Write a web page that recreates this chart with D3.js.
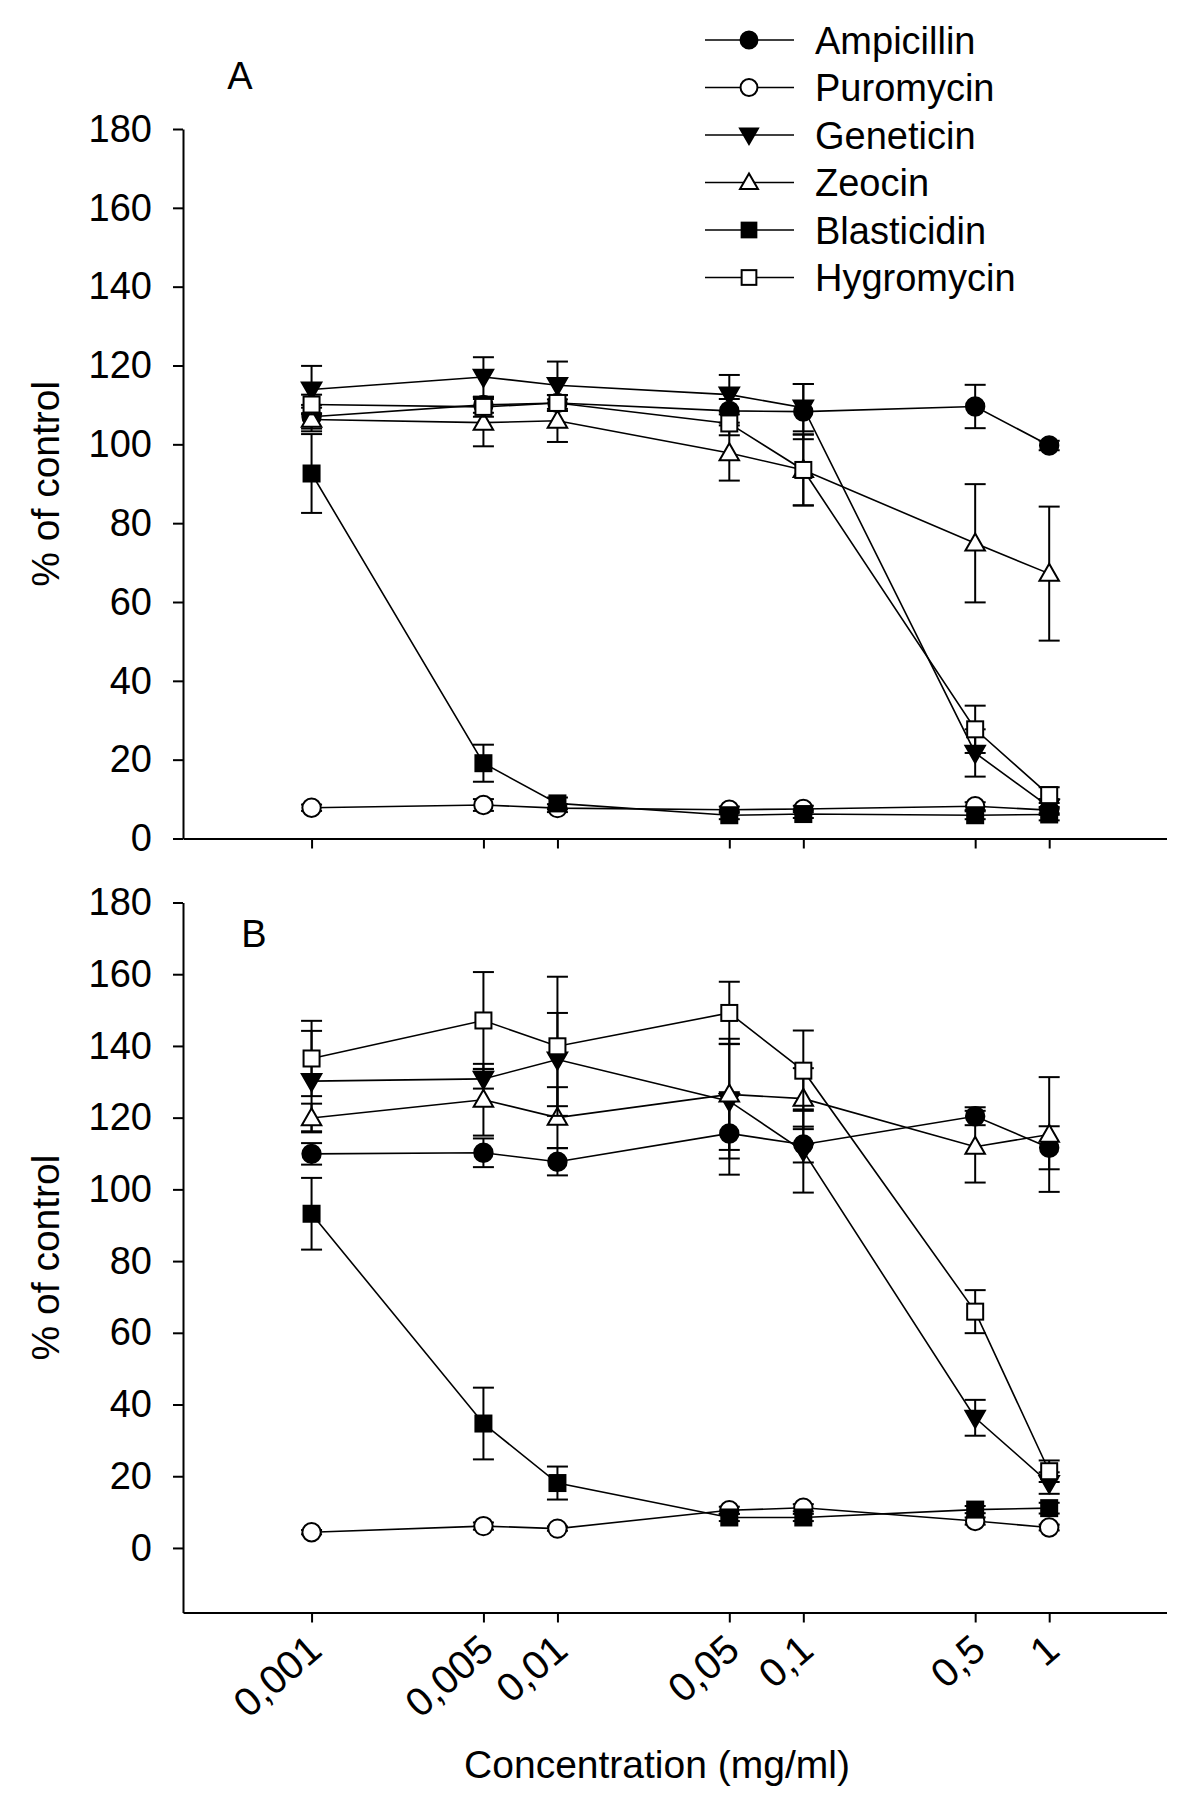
<!DOCTYPE html>
<html><head><meta charset="utf-8">
<script src="https://cdn.jsdelivr.net/npm/d3@7"></script>
<style>
body{margin:0;background:#fff}
svg{display:block}
text{font-family:"Liberation Sans",Arial,Helvetica,sans-serif;fill:#000}
</style>
</head><body>
<svg id="chart" width="1200" height="1810"></svg>
<script>
// ---------- data ----------
const concentrations = [0.001, 0.005, 0.01, 0.05, 0.1, 0.5, 1];
const tickLabels = ["0,001", "0,005", "0,01", "0,05", "0,1", "0,5", "1"];
const yTicks = [0, 20, 40, 60, 80, 100, 120, 140, 160, 180];
const seriesNames = ["Ampicillin", "Puromycin", "Geneticin", "Zeocin", "Blasticidin", "Hygromycin"];

// Panel A (mean, error)
const ampicillinA   = [107.0, 110.0, 110.5, 108.5, 108.3, 109.6, 99.7];
const ampicillinAErr= [3.0, 2.0, 2.0, 3.0, 7.0, 5.5, 1.2];
const puromycinA    = [7.8, 8.5, 7.7, 7.3, 7.5, 8.2, 7.2];
const puromycinAErr = [0.8, 1.5, 1.0, 0.8, 0.8, 1.0, 0.8];
const geneticinA    = [113.9, 117.1, 115.0, 112.6, 109.3, 21.7, 8.0];
const geneticinAErr = [6.0, 5.0, 6.0, 5.0, 6.0, 6.0, 2.0];
const zeocinA       = [106.3, 105.5, 106.0, 97.8, 93.5, 74.9, 67.2];
const zeocinAErr    = [3.0, 6.0, 5.4, 7.0, 9.0, 15.0, 17.0];
const blasticidinA  = [92.6, 19.1, 8.9, 5.9, 6.2, 5.9, 6.1];
const blasticidinAErr=[10.0, 4.7, 1.5, 1.0, 1.0, 1.0, 1.5];
const hygromycinA   = [110.1, 109.5, 110.5, 105.3, 93.5, 27.7, 11.0];
const hygromycinAErr= [2.5, 2.5, 2.0, 3.0, 9.0, 6.0, 2.0];

// Panel B (mean, error)
const ampicillinB   = [109.9, 110.2, 107.7, 115.6, 112.5, 120.4, 111.6];
const ampicillinBErr= [3.0, 4.0, 3.8, 11.5, 5.0, 2.5, 6.0];
const puromycinB    = [4.4, 6.1, 5.4, 10.5, 11.2, 7.5, 5.7];
const puromycinBErr = [0.6, 1.0, 0.6, 1.0, 1.0, 1.0, 0.8];
const geneticinB    = [130.2, 130.8, 136.2, 124.6, 110.7, 36.3, 18.1];
const geneticinBErr = [14.0, 2.7, 13.0, 16.0, 11.6, 5.0, 3.0];
const zeocinB       = [119.9, 125.0, 120.0, 126.5, 125.3, 111.9, 115.3];
const zeocinBErr    = [4.0, 10.0, 8.5, 15.5, 8.5, 10.0, 16.0];
const blasticidinB  = [93.2, 34.7, 18.1, 8.5, 8.5, 10.7, 11.1];
const blasticidinBErr=[10.0, 10.0, 4.6, 1.0, 1.0, 1.0, 1.5];
const hygromycinB   = [136.5, 147.1, 139.9, 149.2, 133.1, 65.9, 21.4];
const hygromycinBErr= [10.5, 13.5, 19.4, 8.7, 11.2, 6.0, 3.0];

// ---------- layout / styles ----------
const markerStyles = {
  "Ampicillin":  {shape:"circle",   fill:"#000"},
  "Puromycin":   {shape:"circle",   fill:"#fff"},
  "Geneticin":   {shape:"triDown",  fill:"#000"},
  "Zeocin":      {shape:"triUp",    fill:"#fff"},
  "Blasticidin": {shape:"square",   fill:"#000"},
  "Hygromycin":  {shape:"square",   fill:"#fff"}
};

const panels = [
  {letter:"A", letterPos:[240, 89], yDomain:[0,180], yRange:[838.5,129],
   means:[ampicillinA, puromycinA, geneticinA, zeocinA, blasticidinA, hygromycinA],
   errs:[ampicillinAErr, puromycinAErr, geneticinAErr, zeocinAErr, blasticidinAErr, hygromycinAErr]},
  {letter:"B", letterPos:[254, 947], yDomain:[-18,180], yRange:[1612.5,902.5],
   means:[ampicillinB, puromycinB, geneticinB, zeocinB, blasticidinB, hygromycinB],
   errs:[ampicillinBErr, puromycinBErr, geneticinBErr, zeocinBErr, blasticidinBErr, hygromycinBErr]}
];

const svg = d3.select("#chart");
svg.append("rect").attr("width",1200).attr("height",1810).attr("fill","#fff");

const x = d3.scaleLog().domain([0.0003, 3]).range([183, 1166.5]);

function drawMarker(g, shape, fill, cx, cy, s) {
  const k = s || 1;
  if (shape === "circle") {
    g.append("circle").attr("cx",cx).attr("cy",cy).attr("r",9.2*k)
      .attr("fill",fill).attr("stroke","#000").attr("stroke-width",2);
  } else if (shape === "square") {
    const a = 16*k;
    g.append("rect").attr("x",cx-a/2).attr("y",cy-a/2).attr("width",a).attr("height",a)
      .attr("fill",fill).attr("stroke","#000").attr("stroke-width",2);
  } else {
    const w = 19.5*k, h = 17*k;
    const pts = shape === "triUp"
      ? [[cx, cy-h*0.58],[cx+w/2, cy+h*0.42],[cx-w/2, cy+h*0.42]]
      : [[cx, cy+h*0.58],[cx+w/2, cy-h*0.42],[cx-w/2, cy-h*0.42]];
    g.append("path").attr("d", "M"+pts.map(p=>p.join(",")).join("L")+"Z")
      .attr("fill",fill).attr("stroke","#000").attr("stroke-width",2).attr("stroke-linejoin","miter");
  }
}

panels.forEach(p => {
  const y = d3.scaleLinear().domain(p.yDomain).range(p.yRange);
  const g = svg.append("g");

  // axes
  const yAxis = d3.axisLeft(y).tickValues(yTicks).tickSize(10).tickSizeOuter(0).tickPadding(21);
  const ga = g.append("g").attr("transform",`translate(${x.range()[0]},0)`).call(yAxis);
  ga.select(".domain").attr("stroke","#000").attr("stroke-width",2);
  ga.selectAll(".tick line").attr("stroke","#000").attr("stroke-width",2);
  ga.selectAll(".tick text").style("font-size","38px").attr("font-family",null);

  const xAxis = d3.axisBottom(x).tickValues(concentrations).tickSize(10).tickSizeOuter(0)
    .tickFormat((d,i)=>tickLabels[i]);
  const gx = g.append("g").attr("transform",`translate(0,${p.yRange[0]})`).call(xAxis);
  gx.select(".domain").attr("stroke","#000").attr("stroke-width",2);
  gx.selectAll(".tick line").attr("stroke","#000").attr("stroke-width",2);
  gx.selectAll(".tick text").style("font-size","40px").attr("font-family",null)
    .attr("text-anchor","end").attr("y",0).attr("dy",0)
    .attr("transform","translate(12,41) rotate(-41)");
  if (p.letter === "A") gx.selectAll(".tick text").remove();

  // y title
  g.append("text").attr("transform",`translate(59,${(p.yRange[0]+p.yRange[1])/2}) rotate(-90)`)
    .attr("text-anchor","middle").style("font-size","39px").text("% of control");
  // panel letter
  g.append("text").attr("x",p.letterPos[0]).attr("y",p.letterPos[1]).attr("text-anchor","middle")
    .style("font-size","38px").text(p.letter);

  // series
  seriesNames.forEach((name, si) => {
    const vals = p.means[si], errs = p.errs[si];
    const st = markerStyles[name];
    const sg = g.append("g");
    const line = d3.line().x((d,i)=>x(concentrations[i])).y(d=>y(d));
    sg.append("path").attr("d", line(vals)).attr("fill","none").attr("stroke","#000").attr("stroke-width",1.6);
    vals.forEach((v,i) => {
      const cx = x(concentrations[i]);
      const top = y(v+errs[i]), bot = y(v-errs[i]);
      sg.append("line").attr("x1",cx).attr("x2",cx).attr("y1",top).attr("y2",bot)
        .attr("stroke","#000").attr("stroke-width",2);
      [top, bot].forEach(yy => sg.append("line").attr("x1",cx-10.5).attr("x2",cx+10.5)
        .attr("y1",yy).attr("y2",yy).attr("stroke","#000").attr("stroke-width",2));
    });
    vals.forEach((v,i) => drawMarker(sg, st.shape, st.fill, x(concentrations[i]), y(v)));
  });
});

// x title
svg.append("text").attr("x",657).attr("y",1778).attr("text-anchor","middle")
  .style("font-size","39px").text("Concentration (mg/ml)");

// legend
const legendY = d3.scalePoint().domain(seriesNames).range([40, 277.5]);
const lg = svg.append("g");
seriesNames.forEach(name => {
  const yy = legendY(name), st = markerStyles[name];
  lg.append("line").attr("x1",705).attr("x2",794).attr("y1",yy).attr("y2",yy)
    .attr("stroke","#000").attr("stroke-width",1.6);
  drawMarker(lg, st.shape, st.fill, 749, yy, 0.92);
  lg.append("text").attr("x",815).attr("y",yy).attr("dy","0.36em").style("font-size","38px").text(name);
});
</script>
</body></html>
